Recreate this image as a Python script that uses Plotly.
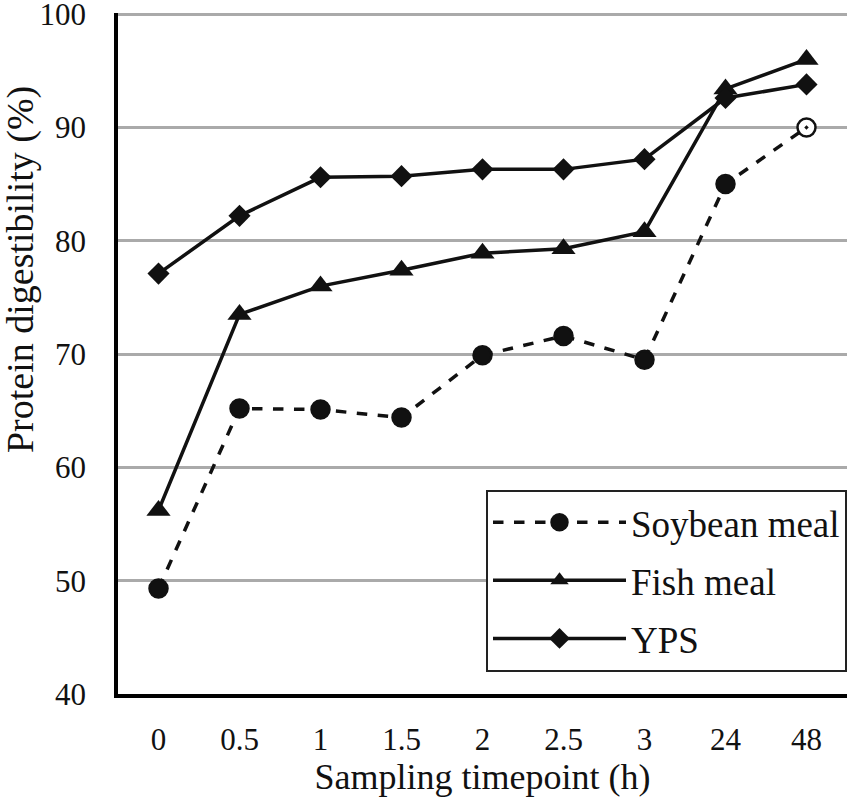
"""Protein digestibility over sampling timepoints"""

import plotly.graph_objects as go

# data
timepoints = ["0", "0.5", "1", "1.5", "2", "2.5", "3", "24", "48"]
soybean_meal = [49.3, 65.2, 65.1, 64.4, 69.9, 71.6, 69.5, 85.0, 90.0]
fish_meal = [56.2, 73.5, 76.0, 77.4, 78.9, 79.3, 80.8, 93.4, 96.0]
yps = [77.1, 82.2, 85.6, 85.7, 86.3, 86.3, 87.2, 92.6, 93.8]
y_ticks = [40, 50, 60, 70, 80, 90, 100]

FONT = "Liberation Serif"
INK = "#111111"

fig = go.Figure()

# soybean meal: dashed line, filled circles, last point open with a dot
soy_symbols = ["circle"] * (len(timepoints) - 1) + ["circle-dot"]
soy_fill = [INK] * (len(timepoints) - 1) + ["white"]
fig.add_trace(
    go.Scatter(
        x=timepoints,
        y=soybean_meal,
        name="Soybean meal",
        legendgroup="a",
        mode="lines+markers",
        line=dict(color=INK, width=3.5, dash="dash"),
        marker=dict(
            symbol=soy_symbols,
            size=18,
            color=soy_fill,
            line=dict(color=INK, width=2.5),
        ),
    )
)
fig.add_trace(
    go.Scatter(
        x=timepoints,
        y=fish_meal,
        name="Fish meal",
        legendgroup="b",
        mode="lines+markers",
        line=dict(color=INK, width=3.5),
        marker=dict(symbol="triangle-up", size=21, color=INK),
    )
)
fig.add_trace(
    go.Scatter(
        x=timepoints,
        y=yps,
        name="YPS",
        legendgroup="c",
        mode="lines+markers",
        line=dict(color=INK, width=3.5),
        marker=dict(symbol="diamond", size=17, color=INK),
    )
)

fig.update_xaxes(
    type="category",
    range=[-0.5, len(timepoints) - 0.5],
    automargin=False,
    showgrid=False,
    showline=True,
    linecolor="black",
    linewidth=3.5,
    ticks="",
    ticklabelstandoff=15,
    tickfont=dict(family=FONT, size=31, color=INK),
    title=dict(
        text="Sampling timepoint (h)",
        font=dict(family=FONT, size=36, color=INK),
        standoff=6,
    ),
)
fig.update_yaxes(
    range=[40, 100.1],
    tickvals=y_ticks,
    automargin=False,
    showgrid=True,
    gridcolor="#aaaaaa",
    gridwidth=3,
    zeroline=False,
    showline=True,
    linecolor="black",
    linewidth=3.5,
    ticks="",
    ticklabelstandoff=22,
    ticklabeloverflow="allow",
    tickfont=dict(family=FONT, size=31, color=INK),
)

# y title sits above the middle of the axis in the original, so use an annotation
fig.add_annotation(
    text="Protein digestibility (%)",
    textangle=-90,
    xref="paper",
    yref="paper",
    x=-0.134,
    y=0.623,
    xanchor="center",
    yanchor="middle",
    showarrow=False,
    font=dict(family=FONT, size=38, color=INK),
)

fig.update_layout(
    width=851,
    height=810,
    margin=dict(l=118, r=4, t=13, b=116),
    plot_bgcolor="white",
    paper_bgcolor="white",
    showlegend=True,
    legend=dict(
        x=1.0,
        y=0.3,
        xanchor="right",
        yanchor="top",
        traceorder="grouped",
        tracegroupgap=7,
        bgcolor="white",
        bordercolor="#222222",
        borderwidth=2,
        font=dict(family=FONT, size=37, color=INK),
        itemwidth=133,
    ),
)

# drop the default page margin so the figure fills the window from the corner
fig.write_html(
    "out.html",
    config={"displayModeBar": False},
    post_script="document.body.style.margin = '0';",
)
